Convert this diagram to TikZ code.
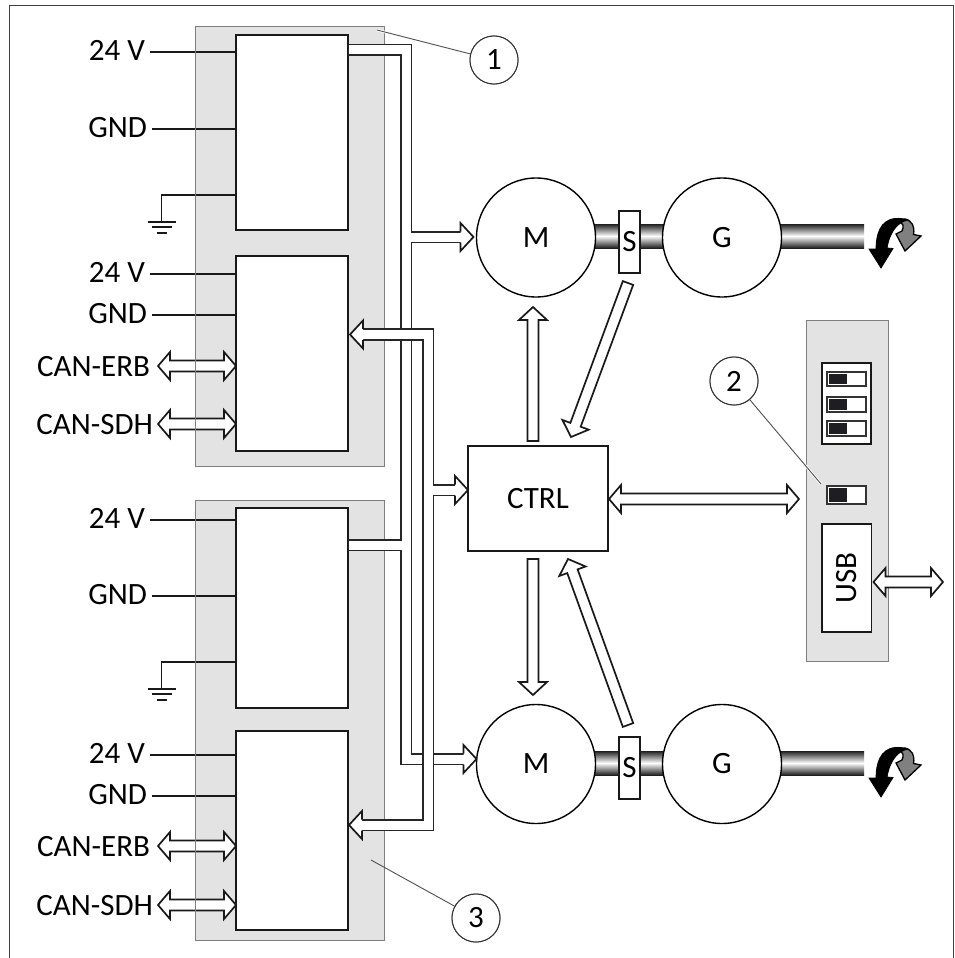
\documentclass[tikz,border=0pt]{standalone}
\usepackage{fontspec}
\setmainfont{Carlito}
\usetikzlibrary{calc}
\definecolor{panelgray}{HTML}{E3E3E3}
\definecolor{paneledge}{HTML}{7F7F7F}
\definecolor{leadergray}{HTML}{505050}
\definecolor{knobdark}{HTML}{1E1E22}
\newcommand{\pxfont}{\fontsize{31}{36}\selectfont}
% rectangular node from corners: style,name,x0,y0,x1,y1,text
\newcommand{\rectnode}[7][]{%
  \pgfmathsetmacro{\rw}{#5-#3}\pgfmathsetmacro{\rh}{#6-#4}%
  \node[#1,minimum width=\rw pt,minimum height=\rh pt] (#2) at ({(#3+#5)/2},{(#4+#6)/2}) {#7};}
% straight fat arrows between two coordinates
\newcommand{\fatarrow}[2]{%
  \path let \p1=($(#2)-(#1)$),\n1={atan2(\y1,\x1)},\n2={veclen(\x1,\y1)} in
   [shift={(#1)},rotate=\n1] [fatshape]
   (0,-5.5) -- (\n2-13,-5.5) -- (\n2-13,-14) -- (\n2,0) -- (\n2-13,14) -- (\n2-13,5.5) -- (0,5.5) -- cycle;}
\newcommand{\fatdouble}[2]{%
  \path let \p1=($(#2)-(#1)$),\n1={atan2(\y1,\x1)},\n2={veclen(\x1,\y1)} in
   [shift={(#1)},rotate=\n1] [fatshape]
   (0,0) -- (12,-14) -- (12,-5.5) -- (\n2-12,-5.5) -- (\n2-12,-14) -- (\n2,0) -- (\n2-12,14) -- (\n2-12,5.5) -- (12,5.5) -- (12,14) -- cycle;}
% arrowhead only, for routed buses: tip at #1, pointing along angle #2
\newcommand{\fathead}[2]{%
  \fill[white,shift={(#1)},rotate=#2] (-13,-5.2) -- (-13,-14) -- (0,0) -- (-13,14) -- (-13,5.2) -- cycle;
  \draw[bus edge tip,shift={(#1)},rotate=#2] (-13,-5.5) -- (-13,-14) -- (0,0) -- (-13,14) -- (-13,5.5);}
\newcommand{\sigline}[2]{%
  \draw[sig] ([shift={(5,-8)}]#1.base east) coordinate (tmp) -- (tmp -| #2.west);}
\newcommand{\groundsym}[1]{%
  \draw[sig] ([xshift=-14pt]#1) -- ([xshift=14pt]#1);
  \draw[sig] ([shift={(-10,5)}]#1) -- ([shift={(10,5)}]#1);
  \draw[sig] ([shift={(-5,11)}]#1) -- ([shift={(5,11)}]#1);}
\newcommand{\sliderswitch}[5]{% name,x0,y0,x1,y1
  \rectnode[switchbody]{#1}{#2}{#3}{#4}{#5}{}
  \fill[knobdark] ([shift={(2,2)}]#1.north west) rectangle ([shift={(-19,-2)}]#1.south east);}
\tikzset{
  x=1pt,y=-1pt,
  every node/.style={font=\pxfont,inner sep=0pt,outer sep=0pt},
  frameline/.style={draw=black!75,line width=1.1pt},
  panel/.style={rectangle,fill=panelgray,draw=paneledge,line width=1pt},
  modbox/.style={rectangle,fill=white,draw=black!90,line width=1.6pt},
  sw/.style={rectangle,fill=white,draw=black!90,line width=1.5pt},
  switchbody/.style={rectangle,fill=white,draw=black!80,line width=1.6pt},
  rotor/.style={circle,fill=white,draw=black,line width=1.4pt,minimum size=119pt},
  callout/.style={circle,fill=white,draw=black!80,line width=1pt,minimum size=48pt},
  lbl/.style={anchor=base east},
  sig/.style={draw=black!90,line width=1.4pt},
  fatshape/.style={draw=black!90,fill=white,line width=1.7pt,miter limit=8},
  bus edge tip/.style={draw=black!90,line width=1.7pt,line join=miter},
  busblack/.style={draw=black!85,line width=12.4pt,line join=miter},
  buswhite/.style={draw=white,line width=9pt,line join=miter},
  leader/.style={draw=leadergray,line width=.9pt},
  halo/.style={draw=white,line width=2.6pt},
  shaft/.style={top color=black!88,bottom color=black!88,middle color=white,shading angle=0},
  turnblack/.style={fill=black,draw=black,line width=.8pt,line join=miter},
  turngray/.style={fill=black!50,draw=black,line width=1.3pt,line join=miter},
}
\begin{document}
\begin{tikzpicture}
\useasboundingbox (0,0) rectangle (955,958);
\fill[white] (0,0) rectangle (955,958);
% frame, open at the bottom
\coordinate (fbl) at (9.5,958);
\coordinate (ftl) at (9.5,5.5);
\coordinate (ftr) at (953.5,5.5);
\coordinate (fbr) at (953.5,958);
\draw[frameline] (fbl) -- (ftl) -- (ftr) -- (fbr);

% panels
\rectnode[panel]{pa}{195}{27}{384}{466}{}
\rectnode[panel]{pb}{195}{500}{384}{940}{}
\rectnode[panel]{pc}{806}{320}{888}{661}{}

% module boxes
\rectnode[modbox]{b1}{236}{35}{348}{230}{}
\rectnode[modbox]{b2}{236}{256}{348}{451}{}
\rectnode[modbox]{b3}{236}{508}{348}{708}{}
\rectnode[modbox]{b4}{236}{731}{348}{930}{}

% left labels
\node[lbl] (a1) at (145,60) {24 V};
\node[lbl] (a2) at (147,137) {GND};
\node[lbl] (a3) at (145,282) {24 V};
\node[lbl] (a4) at (147,323) {GND};
\node[lbl] (a5) at (150,376) {CAN-ERB};
\node[lbl] (a6) at (153,434) {CAN-SDH};
\node[lbl] (c1) at (145,528) {24 V};
\node[lbl] (c2) at (147,604) {GND};
\node[lbl] (c3) at (145,763) {24 V};
\node[lbl] (c4) at (147,804) {GND};
\node[lbl] (c5) at (150,856) {CAN-ERB};
\node[lbl] (c6) at (153,915) {CAN-SDH};

\sigline{a1}{b1}\sigline{a2}{b1}\sigline{a3}{b2}\sigline{a4}{b2}
\sigline{c1}{b3}\sigline{c2}{b3}\sigline{c3}{b4}\sigline{c4}{b4}

% earth connections
\coordinate (g1) at (161.5,222);
\coordinate (g2) at (161.5,689);
\draw[sig] (b1.west |- 0,195) -| (g1);
\draw[sig] (b3.west |- 0,662) -| (g2);
\groundsym{g1}\groundsym{g2}

% CAN arrows
\coordinate (ka) at (158,366);
\coordinate (kb) at (158,424);
\coordinate (kc) at (158,846);
\coordinate (kd) at (158,905);
\fatdouble{ka}{ka -| b2.west}
\fatdouble{kb}{kb -| b2.west}
\fatdouble{kc}{kc -| b4.west}
\fatdouble{kd}{kd -| b4.west}
\draw[draw=paneledge,line width=1pt] (pa.north west) -- (pa.south west);
\draw[draw=paneledge,line width=1pt] (pb.north west) -- (pb.south west);

% machine centres
\coordinate (m1c) at (536,237.5);
\coordinate (g1c) at (722,237.5);
\coordinate (m2c) at (536,764);
\coordinate (g2c) at (722,764);
\coordinate (e1) at (864,237.5);
\coordinate (e2) at (864,764);
% shafts
\shade[shaft] ([yshift=-10.5pt]m1c) rectangle ([yshift=13.5pt]e1);
\shade[shaft] ([yshift=-11pt]m2c) rectangle ([yshift=13pt]e2);
\node[rotor] (m1) at (m1c) {M};
\node[rotor] (g1n) at (g1c) {G};
\node[rotor] (m2) at (m2c) {M};
\node[rotor] (g2n) at (g2c) {G};
\rectnode[sw]{s1}{619}{211}{640}{273}{S}
\rectnode[sw]{s2}{619}{737}{640}{799}{S}

% CTRL
\rectnode[modbox]{ctrl}{468}{446}{608}{551}{CTRL}

% power bus from the output stages to the motors
\coordinate (ba) at (406,50);
\coordinate (bb) at (406,759);
\coordinate (bh1) at (406,237);
\coordinate (bh2) at (406,545);
\draw[busblack] ($(b1.east |- ba)$) -- (ba) -- (bb) -- ($(bb -| m2.west)+(-12,0)$);
\draw[busblack] (bh1) -- ($(bh1 -| m1.west)+(-15,0)$);
\draw[busblack] ($(b3.east |- bh2)$) -- (bh2);
\draw[buswhite] ($(b1.east |- ba)+(1,0)$) -- (ba) -- (bb) -- ($(bb -| m2.west)+(-12,0)$);
\draw[buswhite] (bh1) -- ($(bh1 -| m1.west)+(-15,0)$);
\draw[buswhite] ($(b3.east |- bh2)+(1,0)$) -- (bh2);
\fathead{$(m1.west |- bh1)+(-3,0)$}{0}
\fathead{$(bb -| m2.west)$}{0}

% feedback bus to the output stages
\coordinate (ca) at (428,334.5);
\coordinate (cb) at (428,825);
\coordinate (cc) at (428,490);
\coordinate (cta) at (361,334.5);
\coordinate (ctb) at (361,825);
\draw[busblack] (cta) -- (ca) -- (cb) -- (ctb);
\draw[busblack] (cc) -- ($(cc -| ctrl.west)+(-12,0)$);
\draw[buswhite] (cta) -- (ca) -- (cb) -- (ctb);
\draw[buswhite] (cc) -- ($(cc -| ctrl.west)+(-12,0)$);
\fathead{$(ca -| b2.east)+(2,0)$}{180}
\fathead{$(cb -| b4.east)+(1,0)$}{180}
\fathead{$(cc -| ctrl.west)$}{0}

% arrows around CTRL
\coordinate (u1) at (533,441);
\coordinate (u2) at (533,307);
\fatarrow{u1}{u2}
\coordinate (d1) at (533,559);
\coordinate (d2) at (533,695);
\fatarrow{d1}{d2}
\coordinate (t1) at (628,283);
\coordinate (t2) at (571,437);
\fatarrow{t1}{t2}
\coordinate (t3) at (628,725);
\coordinate (t4) at (568,559);
\fatarrow{t3}{t4}
\coordinate (h1) at (609,499);
\coordinate (h2) at (799,499);
\fatdouble{h1}{h2}

% control panel items
\rectnode[sw]{dip}{822}{363}{871}{444}{}
\sliderswitch{sw1}{827}{372}{866}{386}
\sliderswitch{sw2}{827}{397}{866}{412}
\sliderswitch{sw3}{827}{421}{866}{436}
\sliderswitch{sw4}{827}{486}{866}{504}
\rectnode[sw]{usb}{822}{524}{871.5}{632}{\rotatebox{90}{USB}}
\coordinate (h3) at (873.5,582);
\coordinate (h4) at (943,582);
\fatdouble{h3}{h4}

% turning arrows
\foreach \dy/\nm in {0/t,529/l}{
\begin{scope}[shift={(0,\dy)}]
  \path[turngray] (902,231) .. controls (904,226) and (904,224) .. (898,221)
    -- (905,219) .. controls (912,221) and (915,226) .. (913.5,234.5)
    -- (921,236) -- (905,251) -- (896,234) -- cycle;
  \path[turnblack] (876,249) .. controls (876,235) and (880,220) .. (895,218.5)
    .. controls (900,218) and (905,219) .. (908,220)
    .. controls (898,222) and (890,231) .. (887,248)
    -- (893,248.5) -- (881,268) -- (869,249) -- cycle;
\end{scope}}

% callouts
\node[callout] (n1) at (494,60) {1};
\node[callout] (n2) at (734,381) {2};
\node[callout] (n3) at (476,918) {3};
\coordinate (l1) at (377,30);
\coordinate (l2) at (821,484);
\coordinate (l3) at (371,860);
\draw[halo] (l1) -- ($(l1)!.25!(n1)$);
\draw[halo] (l2) -- ($(l2)!.25!(n2)$);
\draw[leader] (n1) -- (l1);
\draw[leader] (n2) -- (l2);
\draw[leader] (n3) -- (l3);
\node[callout] at (n1) {1};
\node[callout] at (n2) {2};
\node[callout] at (n3) {3};
\end{tikzpicture}
\end{document}
